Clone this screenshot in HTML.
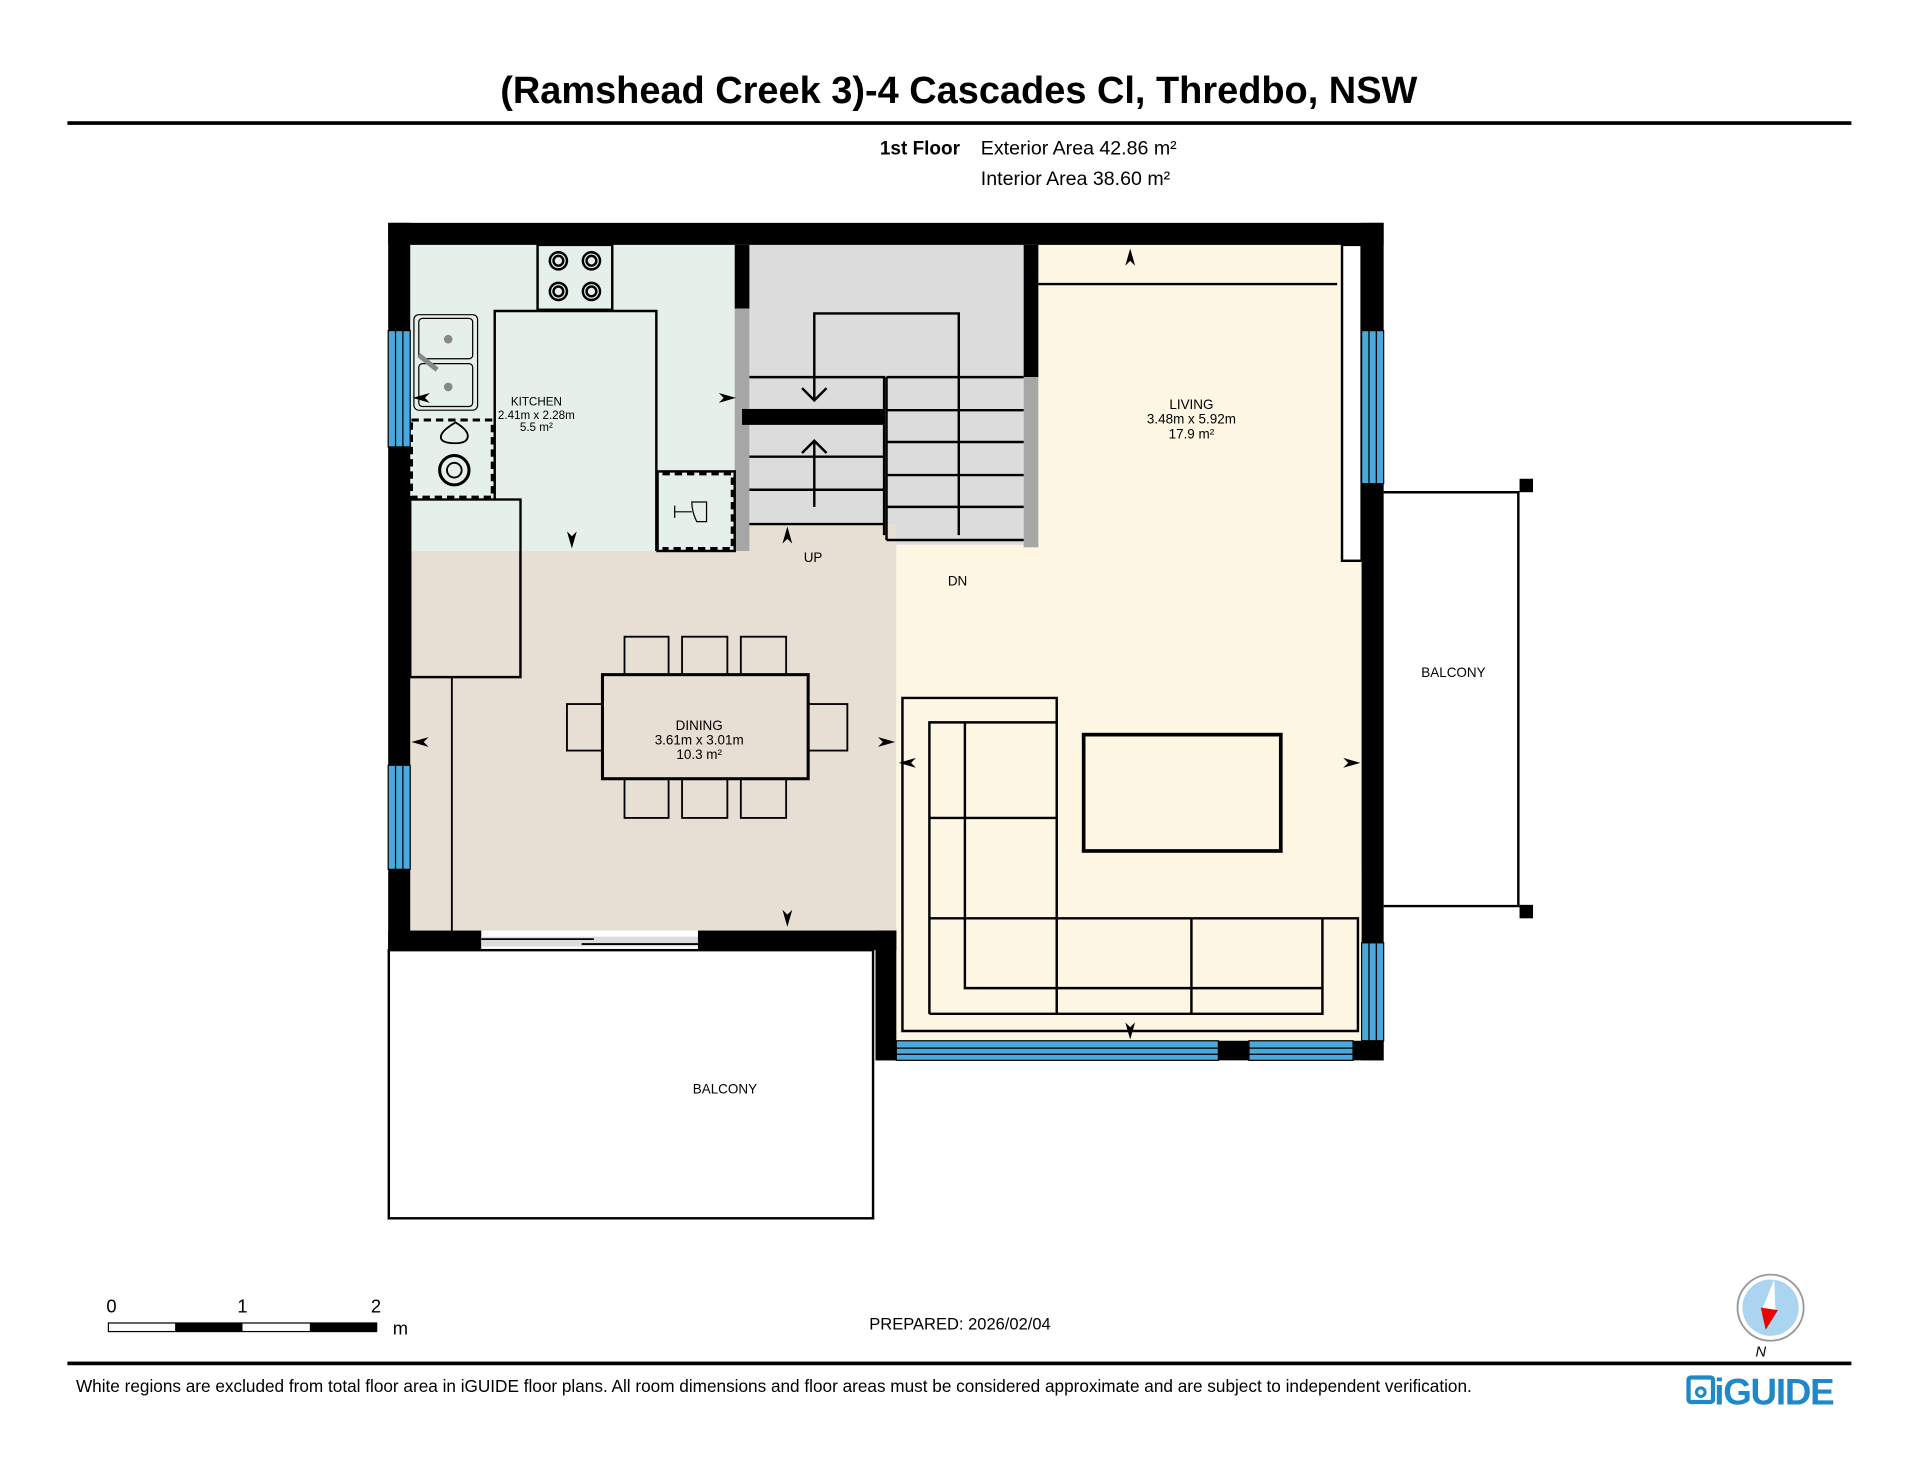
<!DOCTYPE html>
<html><head><meta charset="utf-8"><style>
html,body{margin:0;padding:0;background:#fff;}
svg{display:block;}
text{font-family:"Liberation Sans",Arial,sans-serif;}
</style></head><body>
<svg width="1920" height="1484" viewBox="0 0 1568 1212" xmlns="http://www.w3.org/2000/svg">
<rect width="1568" height="1212" fill="#fff"/>
<text x="783" y="84" font-size="31" font-weight="bold" text-anchor="middle">(Ramshead Creek 3)-4 Cascades Cl, Thredbo, NSW</text>
<rect x="55" y="99" width="1457" height="3" fill="#000"/>
<text x="784" y="126" font-size="15.5" font-weight="bold" text-anchor="end">1st Floor</text>
<text x="801" y="126" font-size="16">Exterior Area 42.86 m²</text>
<text x="801" y="151" font-size="16">Interior Area 38.60 m²</text>

<!-- fills -->
<rect x="335" y="200" width="265" height="250" fill="#e6f0ea"/>
<rect x="612" y="200" width="224" height="245" fill="#dcdcdc"/>
<rect x="848" y="200" width="264" height="650" fill="#fdf6e3"/>
<rect x="732" y="445" width="380" height="405" fill="#fdf6e3"/>
<rect x="335" y="450" width="397" height="310" fill="#e7dfd3"/>
<rect x="600" y="428" width="132" height="22" fill="#e7dfd3"/>

<path d="M848 232 H1092" stroke="#000" stroke-width="2"/>
<rect x="1096" y="200" width="16" height="258" fill="#fff" stroke="#000" stroke-width="2"/>
<rect x="1112" y="458" width="18" height="250" fill="#dcdcdc"/>
<line x1="1121" y1="458" x2="1121" y2="708" stroke="#000" stroke-width="2"/>
<line x1="1124" y1="576" x2="1124" y2="620" stroke="#000" stroke-width="2"/>

<!-- outer walls -->
<rect x="317" y="182" width="813" height="18" fill="#000"/>
<rect x="317" y="182" width="18" height="594" fill="#000"/>
<rect x="1112" y="182" width="18" height="684" fill="#000"/>
<rect x="317" y="760" width="76" height="16" fill="#000"/>
<rect x="393" y="765" width="177" height="8" fill="#dcdcdc"/>
<line x1="393" y1="767" x2="485" y2="767" stroke="#000" stroke-width="1.5"/>
<line x1="475" y1="771" x2="570" y2="771" stroke="#000" stroke-width="1.5"/>
<rect x="570" y="760" width="162" height="16" fill="#000"/>
<rect x="715" y="760" width="17" height="106" fill="#000"/>
<rect x="715" y="850" width="415" height="16" fill="#000"/>
<g fill="#4aa8dc" stroke="#000" stroke-width="1">
<rect x="317" y="270" width="18" height="95"/>
<rect x="317" y="625" width="18" height="85"/>
<rect x="1112" y="270" width="18" height="125"/>
<rect x="1112" y="770" width="18" height="80"/>
<rect x="732" y="850" width="263" height="16"/>
<rect x="1020" y="850" width="85" height="16"/>
</g>
<g stroke="#000" stroke-width="1">
<line x1="323" y1="270" x2="323" y2="365"/><line x1="329" y1="270" x2="329" y2="365"/>
<line x1="323" y1="625" x2="323" y2="710"/><line x1="329" y1="625" x2="329" y2="710"/>
<line x1="1118" y1="270" x2="1118" y2="395"/><line x1="1124" y1="270" x2="1124" y2="395"/>
<line x1="1118" y1="770" x2="1118" y2="850"/><line x1="1124" y1="770" x2="1124" y2="850"/>
<line x1="732" y1="856" x2="995" y2="856"/><line x1="732" y1="861" x2="995" y2="861"/>
<line x1="1020" y1="856" x2="1105" y2="856"/><line x1="1020" y1="861" x2="1105" y2="861"/>
</g>

<rect x="600" y="200" width="12" height="52" fill="#000"/>
<rect x="600" y="252" width="12" height="198" fill="#a6a6a6"/>
<rect x="836" y="200" width="12" height="108" fill="#000"/>
<rect x="836" y="308" width="12" height="139" fill="#a6a6a6"/>

<rect x="317.5" y="776" width="395.5" height="219" fill="#fff" stroke="#000" stroke-width="2"/>
<text x="592" y="893" font-size="11" text-anchor="middle">BALCONY</text>
<path d="M1130 402 H1240 V740 H1130" fill="none" stroke="#000" stroke-width="2"/>
<rect x="1241" y="391" width="11" height="11" fill="#000"/>
<rect x="1241" y="739" width="11" height="11" fill="#000"/>
<text x="1187" y="553" font-size="11" text-anchor="middle">BALCONY</text>

<!-- kitchen -->
<rect x="439" y="200" width="61" height="53" fill="#e6f0ea" stroke="#000" stroke-width="2"/>
<g fill="none" stroke="#000" stroke-width="2">
<circle cx="456" cy="213" r="7"/><circle cx="483" cy="213" r="7"/>
<circle cx="456" cy="238" r="7"/><circle cx="483" cy="238" r="7"/>
<circle cx="456" cy="213" r="4"/><circle cx="483" cy="213" r="4"/>
<circle cx="456" cy="238" r="4"/><circle cx="483" cy="238" r="4"/>
</g>
<path d="M404 450 V254 H536 V450" fill="none" stroke="#000" stroke-width="2"/>
<rect x="338" y="257" width="52" height="78" rx="4" fill="#e6f0ea" stroke="#000" stroke-width="1"/>
<rect x="342" y="260" width="44" height="33" rx="3" fill="none" stroke="#000" stroke-width="1"/>
<rect x="342" y="297" width="44" height="35" rx="3" fill="none" stroke="#000" stroke-width="1"/>
<circle cx="366" cy="277" r="3.5" fill="#888"/><circle cx="366" cy="316" r="3.5" fill="#888"/>
<line x1="342" y1="290" x2="357" y2="302" stroke="#888" stroke-width="4"/>
<rect x="336" y="343" width="66" height="63" fill="none" stroke="#000" stroke-width="2.5" stroke-dasharray="6,4"/>
<path d="M372 345 q-12 7 -12 12 q0 5 12 5 q10 0 10 -6 q0 -5 -10 -11z" fill="none" stroke="#000" stroke-width="1.5"/>
<circle cx="371" cy="384" r="12" fill="none" stroke="#000" stroke-width="2.5"/>
<circle cx="371" cy="384" r="6" fill="none" stroke="#000" stroke-width="1.5"/>
<rect x="537" y="385" width="63" height="65" fill="none" stroke="#000" stroke-width="2"/>
<path d="M541 387 H598 V448 H541" fill="none" stroke="#000" stroke-width="2.5" stroke-dasharray="6,4"/>
<path d="M551 418 H565 M551 413 V423 M565 410 h12 v16 h-8 q-4 -8 -4 -16z" fill="none" stroke="#000" stroke-width="1"/>
<rect x="335" y="408" width="90" height="145" fill="#e7dfd3" stroke="#000" stroke-width="2"/>
<rect x="336" y="409" width="88" height="41" fill="#e6f0ea"/>
<line x1="369" y1="553" x2="369" y2="760" stroke="#000" stroke-width="1.5"/>
<text x="438" y="331" font-size="9.5" text-anchor="middle">KITCHEN</text>
<text x="438" y="342" font-size="9.5" text-anchor="middle">2.41m x 2.28m</text>
<text x="438" y="352" font-size="9.5" text-anchor="middle">5.5 m²</text>

<!-- stairs -->
<g stroke="#000" stroke-width="2" fill="none">
<path d="M612 308 H722 V437 M612 373 H722 M612 400 H722 M612 428 H722"/>
<path d="M724 308 H836 M724 335 H836 M724 361 H836 M724 388 H836 M724 414 H836 M724 441 H836 M724 308 V441"/>
<path d="M665 327 V256 H783 V437"/>
<path d="M655 317 L665 327 L675 317"/>
<path d="M665 414 V360 M655 370 L665 360 L675 370"/>
</g>
<rect x="606" y="334" width="116" height="13" fill="#000"/>
<text x="664" y="459" font-size="11" text-anchor="middle">UP</text>
<text x="782" y="478" font-size="11" text-anchor="middle">DN</text>

<!-- dining -->
<g fill="#e7dfd3" stroke="#000" stroke-width="1.5">
<rect x="510" y="520" width="36" height="31"/><rect x="557" y="520" width="37" height="31"/><rect x="605" y="520" width="37" height="31"/>
<rect x="510" y="636" width="36" height="32"/><rect x="557" y="636" width="37" height="32"/><rect x="605" y="636" width="37" height="32"/>
<rect x="463" y="575" width="29" height="38"/><rect x="660" y="575" width="32" height="38"/>
</g>
<rect x="492" y="551" width="168" height="85" fill="#e7dfd3" stroke="#000" stroke-width="2.5"/>
<text x="571" y="596" font-size="11" text-anchor="middle">DINING</text>
<text x="571" y="608" font-size="11" text-anchor="middle">3.61m x 3.01m</text>
<text x="571" y="620" font-size="11" text-anchor="middle">10.3 m²</text>

<!-- living -->
<text x="973" y="334" font-size="11" text-anchor="middle">LIVING</text>
<text x="973" y="346" font-size="11" text-anchor="middle">3.48m x 5.92m</text>
<text x="973" y="358" font-size="11" text-anchor="middle">17.9 m²</text>
<g fill="none" stroke="#000" stroke-width="2">
<path d="M737 570 H863 V750 H1109 V842 H737 Z"/>
<path d="M759 828 V590 H863 M759 668 H863 M788 590 V807 H1080 M759 750 H863 M759 828 H1080 V750 M863 750 V828 M973 750 V828"/>
</g>
<rect x="885" y="600" width="161" height="95" fill="none" stroke="#000" stroke-width="3"/>

<g fill="#000">
<path d="M923 203 l-4 14 l4 -4 l4 4z"/>
<path d="M601 325 l-14 -4 l4 4 l-4 4z"/>
<path d="M337 325 l14 -4 l-4 4 l4 4z"/>
<path d="M467 448 l-4 -14 l4 4 l4 -4z"/>
<path d="M643 430 l-4 14 l4 -4 l4 4z"/>
<path d="M336 606 l14 -4 l-4 4 l4 4z"/>
<path d="M731 606 l-14 -4 l4 4 l-4 4z"/>
<path d="M734 623 l14 -4 l-4 4 l4 4z"/>
<path d="M643 757 l-4 -14 l4 4 l4 -4z"/>
<path d="M1111 623 l-14 -4 l4 4 l-4 4z"/>
<path d="M923 849 l-4 -14 l4 4 l4 -4z"/>
</g>

<rect x="88.5" y="1080.5" width="219" height="7" fill="#fff" stroke="#000" stroke-width="1"/>
<rect x="143" y="1080.5" width="55" height="7" fill="#000"/>
<rect x="253" y="1080.5" width="55" height="7" fill="#000"/>
<text x="91" y="1072" font-size="15" text-anchor="middle">0</text>
<text x="198" y="1072" font-size="15" text-anchor="middle">1</text>
<text x="307" y="1072" font-size="15" text-anchor="middle">2</text>
<text x="327" y="1090" font-size="15" text-anchor="middle">m</text>
<text x="784" y="1086" font-size="13.5" text-anchor="middle">PREPARED: 2026/02/04</text>

<circle cx="1446" cy="1068" r="27" fill="#fff" stroke="#999" stroke-width="1.5"/>
<circle cx="1446" cy="1068" r="23" fill="#aad4f0"/>
<path d="M1449 1045 L1438 1072 L1450 1070 Z" fill="#fff"/>
<path d="M1438 1068 L1452 1070 L1442 1086 Z" fill="#e00"/>
<text x="1438" y="1108" font-size="12" font-style="italic" text-anchor="middle">N</text>

<rect x="55" y="1112" width="1457" height="3" fill="#000"/>
<text x="62" y="1137" font-size="14" textLength="1140" lengthAdjust="spacingAndGlyphs">White regions are excluded from total floor area in iGUIDE floor plans. All room dimensions and floor areas must be considered approximate and are subject to independent verification.</text>
<rect x="1379" y="1125" width="20" height="20" rx="2" fill="none" stroke="#1e88c8" stroke-width="3.5"/>
<circle cx="1389" cy="1137" r="3.5" fill="none" stroke="#1e88c8" stroke-width="2.5"/>
<text x="1400" y="1147" font-size="30" font-weight="bold" fill="#1e88c8" letter-spacing="-1">iGUIDE</text>
</svg>
</body></html>
